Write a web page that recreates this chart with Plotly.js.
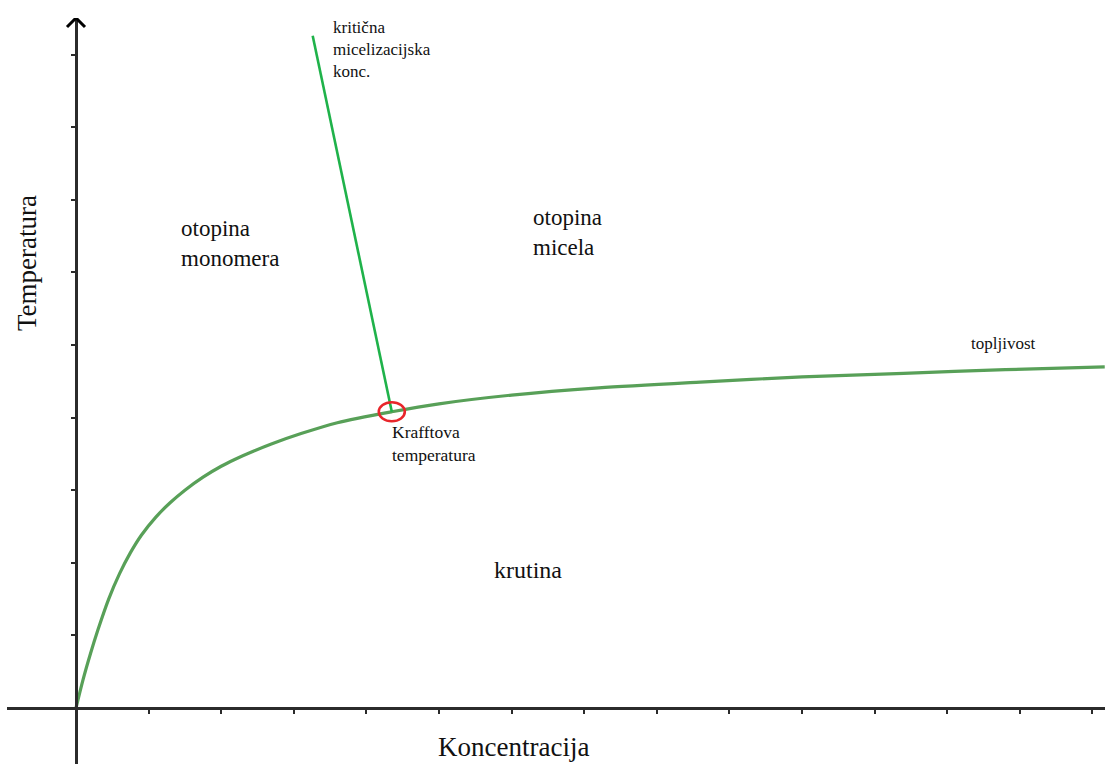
<!DOCTYPE html>
<html>
<head>
<meta charset="utf-8">
<script src="https://cdn.plot.ly/plotly-3.0.1.min.js"></script>
<style>
html,body{margin:0;padding:0;overflow:hidden;background:#fff;}
#chart{width:1105px;height:764px;}
</style>
</head>
<body>
<div id="chart"></div>
<script>
// ---- data (axis units = tick spacing) ----
const solubilityConc = [0, 0.1, 0.2, 0.3, 0.45, 0.6, 0.75, 0.9, 1.1, 1.3, 1.5, 1.75, 2.0, 2.2, 2.45, 2.7, 3.1, 3.6, 4.35, 5.0, 6.0, 7.2, 8.6, 10.0, 11.4, 12.8, 14.17];
const solubilityTemp = [0, 0.40, 0.75, 1.07, 1.50, 1.85, 2.14, 2.38, 2.63, 2.83, 3.00, 3.18, 3.33, 3.43, 3.54, 3.64, 3.78, 3.93, 4.08, 4.19, 4.31, 4.41, 4.49, 4.56, 4.61, 4.66, 4.70];
const cmcConc = [3.26, 4.35];
const cmcTemp = [9.26, 4.08];
const krafftConc = [4.35];
const krafftTemp = [4.08];
const xTickVals = [1,2,3,4,5,6,7,8,9,10,11,12,13,14];
const yTickVals = [1,2,3,4,5,6,7,8,9];

// ---- layout helpers (pixel -> axis units, for label placement only) ----
const U = 72.6, OX = 76, OY = 708;
const W = 1105, H = 764, ML = 7, MT = 18;
const X = p => (p - OX) / U;
const Y = p => (OY - p) / U;
const xRange = [X(ML), X(W)];
const yRange = [Y(H), Y(MT)];

const serif = '"Liberation Serif", "Times New Roman", serif';
const ink = '#111111';
const axisColor = '#2b2b2b';

const traces = [
  {
    x: solubilityConc, y: solubilityTemp, type: 'scatter', mode: 'lines',
    line: {color: '#58a058', width: 3.2, shape: 'spline', smoothing: 0.8},
    hoverinfo: 'skip', showlegend: false
  },
  {
    x: cmcConc, y: cmcTemp, type: 'scatter', mode: 'lines',
    line: {color: '#1fb24a', width: 2.6},
    hoverinfo: 'skip', showlegend: false
  }
];

function label(text, px, py, size, xanchor, extra) {
  return Object.assign({
    text: text, x: X(px), y: Y(py), xref: 'x', yref: 'y',
    xanchor: xanchor || 'left', yanchor: 'middle', align: 'left',
    showarrow: false, font: {family: serif, size: size, color: ink}
  }, extra || {});
}

const annotations = [
  label('otopina<br>monomera', 179, 243, 23),
  label('otopina<br>micela', 531, 232, 23),
  label('krutina', 492, 570, 24),
  label('topljivost', 969, 343, 17),
  label('kritična<br>micelizacijska<br>konc.', 331, 49, 17),
  label('Krafftova<br>temperatura', 390, 443, 17.5),
  label('Koncentracija', 513, 747, 27, 'center'),
  label('Temperatura', 27, 263, 27, 'center', {textangle: -90})
];

const shapes = [
  { // Krafft point marker
    type: 'circle', xref: 'x', yref: 'y',
    xsizemode: 'pixel', ysizemode: 'pixel',
    xanchor: krafftConc[0], yanchor: krafftTemp[0],
    x0: -13, x1: 13, y0: -9.5, y1: 9.5,
    line: {color: '#e8262b', width: 2.6}
  },
  { // arrow head on the temperature axis
    type: 'path', xref: 'x', yref: 'y',
    xsizemode: 'pixel', ysizemode: 'pixel',
    xanchor: 0, yanchor: yRange[1],
    path: 'M -9,-9 L 0,0 L 9,-9',
    line: {color: '#000000', width: 3}
  }
];

const layout = {
  width: W, height: H,
  margin: {l: ML, r: 0, t: MT, b: 0, pad: 0},
  paper_bgcolor: '#ffffff', plot_bgcolor: '#ffffff',
  showlegend: false,
  xaxis: {
    range: xRange, anchor: 'free', position: (0 - yRange[0]) / (yRange[1] - yRange[0]),
    showline: true, linecolor: axisColor, linewidth: 2.5,
    showgrid: false, zeroline: false,
    tickmode: 'array', tickvals: xTickVals, showticklabels: false,
    ticks: 'outside', ticklen: 4, tickwidth: 2, tickcolor: axisColor,
    fixedrange: true
  },
  yaxis: {
    range: yRange, anchor: 'free', position: (0 - xRange[0]) / (xRange[1] - xRange[0]),
    showline: true, linecolor: axisColor, linewidth: 2.5,
    showgrid: false, zeroline: false,
    tickmode: 'array', tickvals: yTickVals, showticklabels: false,
    ticks: 'outside', ticklen: 4, tickwidth: 2, tickcolor: axisColor,
    fixedrange: true
  },
  annotations: annotations,
  shapes: shapes
};

Plotly.newPlot('chart', traces, layout, {displayModeBar: false, staticPlot: true});
</script>
</body>
</html>
